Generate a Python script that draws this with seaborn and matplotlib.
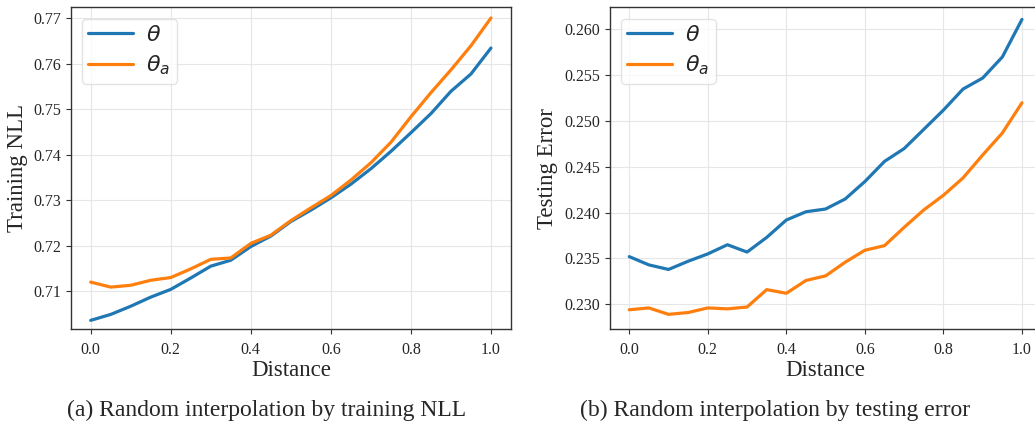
import matplotlib
matplotlib.use('Agg')
import matplotlib.pyplot as plt
import numpy as np
import pandas as pd
import seaborn as sns

# interpolation distances (21 points)
distance = [0.0, 0.05, 0.1, 0.15, 0.2, 0.25, 0.3, 0.35, 0.4, 0.45, 0.5,
            0.55, 0.6, 0.65, 0.7, 0.75, 0.8, 0.85, 0.9, 0.95, 1.0]

# (a) training NLL
nll_theta = [0.7036, 0.7049, 0.7067, 0.7087, 0.7104, 0.7129, 0.7155, 0.7168,
             0.7198, 0.7221, 0.7253, 0.7278, 0.7305, 0.7335, 0.7369, 0.7407,
             0.7448, 0.7490, 0.7539, 0.7577, 0.7634]
nll_theta_a = [0.7120, 0.7109, 0.7113, 0.7124, 0.7130, 0.7149, 0.7170, 0.7173,
               0.7205, 0.7223, 0.7255, 0.7283, 0.7310, 0.7344, 0.7382, 0.7427,
               0.7483, 0.7536, 0.7586, 0.7639, 0.7700]

# (b) testing error
err_theta = [0.2352, 0.2343, 0.2338, 0.2347, 0.2355, 0.2365, 0.2357, 0.2373,
             0.2392, 0.2401, 0.2404, 0.2415, 0.2434, 0.2456, 0.2470, 0.2491,
             0.2512, 0.2535, 0.2547, 0.2570, 0.2611]
err_theta_a = [0.2294, 0.2296, 0.2289, 0.2291, 0.2296, 0.2295, 0.2297, 0.2316,
               0.2312, 0.2326, 0.2331, 0.2346, 0.2359, 0.2364, 0.2384, 0.2403,
               0.2419, 0.2438, 0.2463, 0.2487, 0.2520]

series_names = [r'$\theta$', r'$\theta_a$']
palette = ['#1f77b4', '#ff7f0e']


def make_df(a, b):
    return pd.DataFrame({
        'Distance': distance * 2,
        'value': list(a) + list(b),
        'model': [series_names[0]] * len(a) + [series_names[1]] * len(b),
    })


def setting_axes(ax, ylabel, yticks, fmt):
    for axis in ['top', 'bottom', 'left', 'right']:
        ax.spines[axis].set_visible(True)
        ax.spines[axis].set_color('#333333')
        ax.spines[axis].set_linewidth(1.0)
    ax.grid(True, color='#e6e6e6', linewidth=0.8)
    ax.set_axisbelow(True)
    ax.set_xticks([0.0, 0.2, 0.4, 0.6, 0.8, 1.0])
    ax.set_xticklabels(['%.1f' % t for t in [0.0, 0.2, 0.4, 0.6, 0.8, 1.0]])
    ax.set_yticks(yticks)
    ax.set_yticklabels([fmt % t for t in yticks])
    ax.tick_params(axis='both', labelsize=11.5, length=3.5, width=0.8,
                   color='#333333', direction='out', bottom=True, left=True)
    ax.tick_params(axis='x', pad=6)
    ax.set_xlabel('Distance', fontsize=16.5, labelpad=1)
    ax.set_ylabel(ylabel, fontsize=16.5, labelpad=4)
    ax.set_xlim(-0.05, 1.05)
    leg = ax.legend(loc='upper left', fontsize=16, frameon=True,
                    handlelength=2.0, borderpad=0.3, labelspacing=0.35,
                    handletextpad=0.6)
    leg.get_frame().set_edgecolor('#dddddd')


sns.set_style('white')
plt.rcParams['font.family'] = ['Liberation Serif', 'DejaVu Serif']
plt.rcParams['mathtext.fontset'] = 'dejavusans'

fig = plt.figure(figsize=(10.35, 4.26), dpi=100, facecolor='white')
ax1 = fig.add_axes([0.0683, 0.2277, 0.4254, 0.7547])
ax2 = fig.add_axes([0.5890, 0.2277, 0.4174, 0.7547])

df1 = make_df(nll_theta, nll_theta_a)
sns.lineplot(data=df1, x='Distance', y='value', hue='model', palette=palette,
             linewidth=2.3, ax=ax1)
ax1.set_ylim(0.7017, 0.7723)
setting_axes(ax1, 'Training NLL', [0.71, 0.72, 0.73, 0.74, 0.75, 0.76, 0.77], '%.2f')

df2 = make_df(err_theta, err_theta_a)
sns.lineplot(data=df2, x='Distance', y='value', hue='model', palette=palette,
             linewidth=2.3, ax=ax2)
ax2.set_ylim(0.2273, 0.2624)
setting_axes(ax2, 'Testing Error', [0.230, 0.235, 0.240, 0.245, 0.250, 0.255, 0.260], '%.3f')

fig.text(0.2575, 0.037, '(a) Random interpolation by training NLL', ha='center',
         va='center', fontsize=17)
fig.text(0.749, 0.037, '(b) Random interpolation by testing error', ha='center',
         va='center', fontsize=17)

plt.savefig('out.png', dpi=100)
